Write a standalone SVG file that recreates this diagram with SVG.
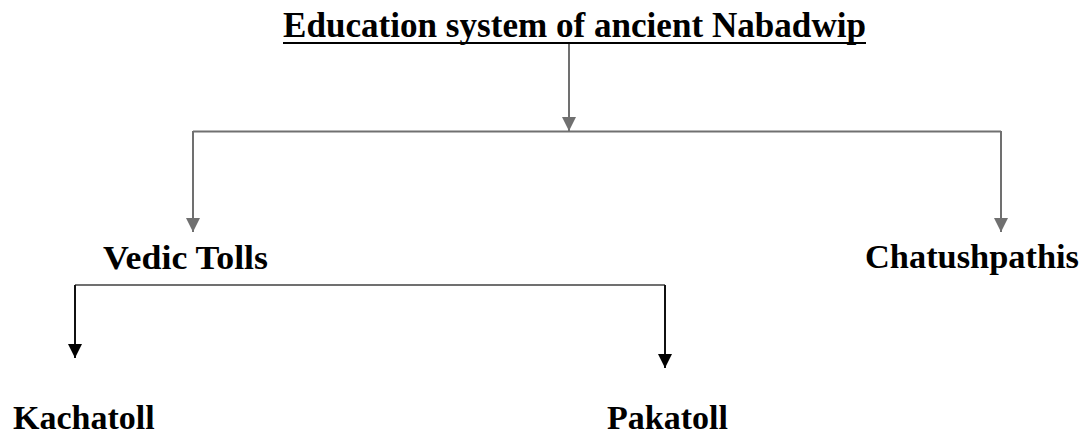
<svg xmlns="http://www.w3.org/2000/svg" width="1083" height="434" viewBox="0 0 1083 434">
<style>
text{font-family:"Liberation Serif","Times New Roman",serif;font-weight:bold;fill:#000}
.t{font-size:36px}
.n{font-size:34px}
.g{stroke:#707070;stroke-width:2;fill:none}
.k{stroke:#111;stroke-width:2;fill:none}
</style>
<defs>
<marker id="ag" markerUnits="userSpaceOnUse" markerWidth="14" markerHeight="15" refX="14" refY="7" orient="auto" viewBox="0 0 14 14">
<path d="M0,0 L14,7 L0,14 Z" fill="#707070"/>
</marker>
<marker id="ak" markerUnits="userSpaceOnUse" markerWidth="14" markerHeight="15" refX="14" refY="7" orient="auto" viewBox="0 0 14 14">
<path d="M0,0 L14,7 L0,14 Z" fill="#000"/>
</marker>
</defs>
<rect width="1083" height="434" fill="#fff"/>
<g id="title">
<text class="t" x="283" y="37" textLength="583" lengthAdjust="spacingAndGlyphs">Education system of ancient Nabadwip</text>
<line x1="283" y1="43" x2="866" y2="43" stroke="#000" stroke-width="2"/>
</g>
<g id="vedic"><text class="n" x="103" y="269" textLength="165" lengthAdjust="spacingAndGlyphs">Vedic Tolls</text></g>
<g id="chatush"><text class="n" x="865" y="268" textLength="214" lengthAdjust="spacingAndGlyphs">Chatushpathis</text></g>
<g id="kacha"><text class="n" x="13" y="429">Kachatoll</text></g>
<g id="paka"><text class="n" x="607" y="429">Pakatoll</text></g>
<g id="connectors">
<line class="g" x1="569" y1="44" x2="569" y2="131" marker-end="url(#ag)"/>
<polyline class="g" points="193,131.5 1001,131.5"/>
<line class="g" x1="193" y1="131" x2="193" y2="232" marker-end="url(#ag)"/>
<line class="g" x1="1001" y1="131" x2="1001" y2="232" marker-end="url(#ag)"/>
<polyline class="g" points="75,285 665,285"/>
<line class="k" x1="75" y1="285" x2="75" y2="358" marker-end="url(#ak)"/>
<line class="k" x1="665" y1="285" x2="665" y2="368" marker-end="url(#ak)"/>
</g>
</svg>
